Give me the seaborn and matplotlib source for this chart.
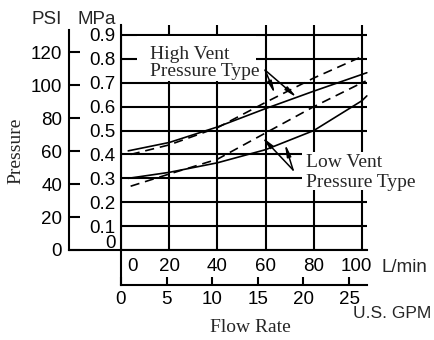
import pandas as pd
import matplotlib.pyplot as plt
import seaborn as sns
from matplotlib.patches import Rectangle
from matplotlib.transforms import ScaledTranslation

# curves: flow in L/min, pressure in MPa
flow_high_solid = [3, 20, 40, 60, 80, 100, 102]
mpa_high_solid = [0.415, 0.45, 0.515, 0.592, 0.665, 0.735, 0.742]
flow_high_dash = [4, 20, 40, 60, 80, 100, 101]
mpa_high_dash = [0.40, 0.44, 0.512, 0.618, 0.72, 0.81, 0.815]
flow_low_solid = [3, 20, 40, 60, 80, 100, 102]
mpa_low_solid = [0.30, 0.325, 0.365, 0.42, 0.50, 0.625, 0.645]
flow_low_dash = [4, 20, 40, 60, 80, 100, 101.5]
mpa_low_dash = [0.267, 0.318, 0.38, 0.49, 0.60, 0.70, 0.707]

lmin_ticks = [0, 20, 40, 60, 80, 100]
mpa_ticks = [0, 0.1, 0.2, 0.3, 0.4, 0.5, 0.6, 0.7, 0.8, 0.9]
psi_ticks = [0, 20, 40, 60, 80, 100, 120]
gpm_ticks = [0, 5, 10, 15, 20, 25]

PSI_PER_MPA = 145.04
LMIN_PER_GPM = 3.785

sns.set_style('white')
plt.rcParams['font.family'] = ['Liberation Sans', 'DejaVu Sans']
SERIF = ['Liberation Serif', 'DejaVu Serif']

W, H = 435, 340
fig = plt.figure(figsize=(W / 100, H / 100), dpi=100)


def box(x0, y0, x1, y1):
    # pixel box -> figure fraction rect
    return [x0 / W, 1 - y1 / H, (x1 - x0) / W, (y1 - y0) / H]


def fxy(x, y):
    return x / W, 1 - y / H


XMAX = (367 - 121) / 2.41
YMAX = (250 - 25) / 238.9

# ---- main grid ----
ax = fig.add_axes(box(121, 25, 367, 250))
ax.set_xlim(0, XMAX)
ax.set_ylim(0, YMAX)
for s in ['top', 'right']:
    ax.spines[s].set_visible(False)
for s in ['left', 'bottom']:
    ax.spines[s].set_color('k')
    ax.spines[s].set_linewidth(1.5)
ax.set_xticks(lmin_ticks)
ax.set_xticklabels([str(v) for v in lmin_ticks])
ax.set_yticks(mpa_ticks)
ax.set_yticklabels(['0'] + [f'{v:.1f}' for v in mpa_ticks[1:]])
ax.tick_params(axis='both', length=0, labelsize=13.5, colors='k')
ax.tick_params(axis='x', pad=6)
ax.tick_params(axis='y', pad=4)
ax.grid(True, color='k', lw=1.5)
ax.set_axisbelow(True)

# nudge a few tick labels off the spines, like the original
xl = ax.get_xticklabels()
xl[0].set_transform(xl[0].get_transform() + ScaledTranslation(0.12, 0, fig.dpi_scale_trans))
xl[-1].set_transform(xl[-1].get_transform() + ScaledTranslation(-0.06, 0, fig.dpi_scale_trans))
yl = ax.get_yticklabels()
yl[0].set_transform(yl[0].get_transform() + ScaledTranslation(0, 0.085, fig.dpi_scale_trans))

# white patches behind the labels hide parts of the grid
ax.add_patch(Rectangle((6.6, 0.706), 49.4, 0.188, fc='white', ec='none', zorder=2))
ax.add_patch(Rectangle((75.1, 0.25), 60, 0.16, fc='white', ec='none', zorder=2, clip_on=False))

df = pd.concat([
    pd.DataFrame({'flow': flow_high_solid, 'mpa': mpa_high_solid, 'curve': 'high_solid'}),
    pd.DataFrame({'flow': flow_high_dash, 'mpa': mpa_high_dash, 'curve': 'high_dash'}),
    pd.DataFrame({'flow': flow_low_solid, 'mpa': mpa_low_solid, 'curve': 'low_solid'}),
    pd.DataFrame({'flow': flow_low_dash, 'mpa': mpa_low_dash, 'curve': 'low_dash'}),
])

for name, g in df.groupby('curve'):
    ls = (0, (5.5, 3.5)) if name.endswith('dash') else '-'
    sns.lineplot(data=g, x='flow', y='mpa', ax=ax, color='k', lw=1.2,
                 linestyle=ls, errorbar=None, legend=False, zorder=3, clip_on=False)
ax.set_xlabel('')
ax.set_ylabel('')

# leader arrows
arrow = dict(arrowstyle='-|>,head_length=0.7,head_width=0.12', color='k', lw=1.1,
             shrinkA=0, shrinkB=0)
ax.annotate('', xy=(63.9, 0.653), xytext=(59.8, 0.753), arrowprops=arrow, annotation_clip=False)
ax.annotate('', xy=(73.0, 0.638), xytext=(59.8, 0.753), arrowprops=arrow, annotation_clip=False)
ax.annotate('', xy=(58.5, 0.473), xytext=(71.4, 0.335), arrowprops=arrow, annotation_clip=False)
ax.annotate('', xy=(68.0, 0.445), xytext=(71.4, 0.335), arrowprops=arrow, annotation_clip=False)

# ---- PSI axis on the far left ----
ax_psi = fig.add_axes(box(69, 25, 121, 250))
ax_psi.set_facecolor('none')
ax_psi.set_ylim(0, YMAX * PSI_PER_MPA)
ax_psi.set_xlim(0, 1)
for s in ['top', 'right']:
    ax_psi.spines[s].set_visible(False)
for s in ['left', 'bottom']:
    ax_psi.spines[s].set_color('k')
    ax_psi.spines[s].set_linewidth(1.5)
ax_psi.spines['left'].set_bounds(0, (250 - 30) / 238.9 * PSI_PER_MPA)
ax_psi.set_yticks(psi_ticks)
ax_psi.set_yticklabels([str(v) for v in psi_ticks])
ax_psi.set_xticks([])
ax_psi.tick_params(axis='y', direction='in', length=8, width=1.5, pad=5,
                   labelsize=13.5, colors='k', left=True)

# ---- GPM axis below ----
ax_gpm = fig.add_axes(box(121, 250, 367, 285))
ax_gpm.set_facecolor('none')
ax_gpm.set_xlim(0, XMAX / LMIN_PER_GPM)
ax_gpm.set_ylim(0, 1)
for s in ['top', 'right']:
    ax_gpm.spines[s].set_visible(False)
for s in ['left', 'bottom']:
    ax_gpm.spines[s].set_color('k')
    ax_gpm.spines[s].set_linewidth(1.5)
ax_gpm.set_xticks(gpm_ticks)
ax_gpm.set_xticklabels([str(v) for v in gpm_ticks])
ax_gpm.set_yticks([])
ax_gpm.tick_params(axis='x', direction='in', length=6, width=1.5, pad=4,
                   labelsize=13.5, colors='k', bottom=True)

# ---- text ----
fig.text(*fxy(47, 20), 'PSI', ha='center', va='center', fontsize=13.5)
fig.text(*fxy(97, 20), 'MPa', ha='center', va='center', fontsize=13.5)
fig.text(*fxy(382, 268), 'L/min', ha='left', va='center', fontsize=13.5)
fig.text(*fxy(431, 313), 'U.S. GPM', ha='right', va='center', fontsize=12.5)
fig.text(*fxy(250, 328), 'Flow Rate', ha='center', va='center', fontsize=14, family=SERIF)
fig.text(*fxy(16, 151), 'Pressure', ha='center', va='center', rotation=90, fontsize=14, family=SERIF)
fig.text(*fxy(150, 59), 'High Vent', ha='left', va='baseline', fontsize=14, family=SERIF)
fig.text(*fxy(150, 76.5), 'Pressure Type', ha='left', va='baseline', fontsize=14, family=SERIF)
fig.text(*fxy(306, 167), 'Low Vent', ha='left', va='baseline', fontsize=14, family=SERIF)
fig.text(*fxy(306, 186.5), 'Pressure Type', ha='left', va='baseline', fontsize=14, family=SERIF)

plt.savefig('out.png', dpi=100)
